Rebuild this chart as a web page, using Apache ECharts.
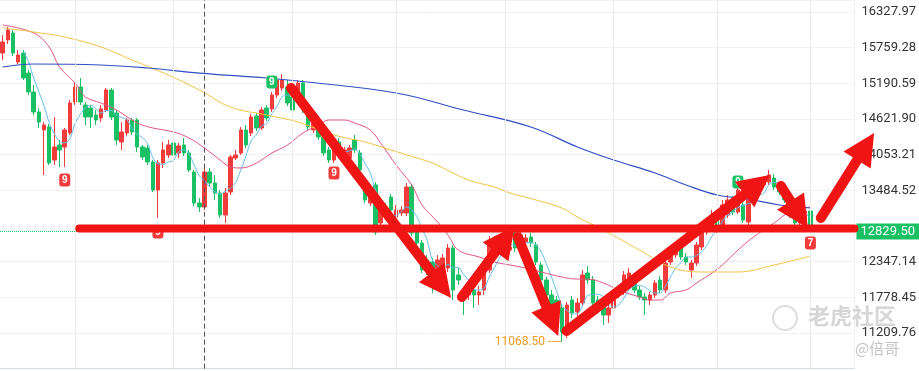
<!DOCTYPE html>
<html><head><meta charset="utf-8">
<script src="https://cdn.jsdelivr.net/npm/echarts@6/dist/echarts.min.js"></script>
<style>html,body{margin:0;padding:0;background:#fff}#c{width:919px;height:371px}</style>
</head><body><div id="c"></div>
<script>
// ---------- data ----------
const categories = Array.from({length: 165}, (_, k) => 'D' + (k + 1));
// [open, close, low, high]
const ohlc = [
[15674,15850,15563,15961],[15882,16041,15818,16089],[15993,15674,15626,16041],[15531,15642,15499,15722],[15674,15276,15244,15722],
[15355,15053,15005,15403],[15053,14734,14686,15164],[14734,14574,14479,14798],[14447,14526,13729,14574],[14495,13921,13889,14542],
[13968,14176,13889,14654],[14208,14128,13857,14287],[14176,14447,13857,14479],[14399,14877,14367,14925],[14893,15132,14845,15196],
[15132,14893,14845,15276],[14845,14654,14526,14893],[14798,14654,14479,14845],[14686,14606,14526,14766],[14638,14782,14574,14845],
[14766,15084,14734,15116],[15084,14654,14606,15116],[14718,14287,14208,14766],[14255,14415,14128,14574],[14399,14606,14351,14638],
[14606,14415,14367,14638],[14606,14176,14096,14638],[14176,14016,13968,14208],[14160,13937,13889,14208],[13937,13490,13458,13968],
[13490,13921,13044,13968],[13921,14128,13841,14255],[14048,14208,14000,14287],[14239,14048,14000,14319],[14080,14192,14000,14239],
[14208,14080,14032,14319],[14080,13809,13777,14128],[13777,13283,13235,13809],[13283,13219,13139,13362],[13219,13777,13171,13841],
[13777,13601,13554,13841],[13601,13442,13331,13729],[13442,13091,13044,13490],[13091,13442,12964,13522],[13458,14016,13410,14048],
[14000,14048,13968,14128],[14080,14447,14048,14495],[14447,14208,14160,14526],[14399,14654,14351,14702],[14670,14479,14431,14718],
[14479,14766,14447,14813],[14798,14638,14590,14845],[14782,15005,14734,15053],[15005,15244,14957,15308],[15116,15244,15068,15340],
[15132,14877,14829,15244],[14973,14766,14718,15053],[14925,15196,14877,15244],[15196,14766,14718,15244],[14766,14495,14447,14813],
[14447,14558,14399,14606],[14606,14335,14287,14654],[14335,14080,14032,14383],[14128,13968,13921,14176],[13968,14239,13921,14287],
[14255,14080,14032,14319],[13937,14128,13889,14176],[14000,14160,13937,14208],[14287,14128,14080,14367],[14080,13809,13761,14128],
[13601,13331,13283,13681],[13283,13378,13235,13426],[13570,12820,12773,13617],[12964,13171,12916,13219],[13219,13059,13012,13283],
[13378,13171,13123,13426],[13059,13171,13012,13251],[13123,13171,13075,13235],[13123,13538,13075,13601],[13538,12805,12757,13585],
[12852,12645,12597,12900],[12645,12215,12167,12693],[12374,12215,12135,12454],[12342,11975,11848,12406],[12215,12374,12135,12454],
[12246,12406,12183,12470],[12246,12565,12183,12629],[12565,11896,11736,12613],[12135,12055,11975,12246],[11864,11816,11497,11928],
[11816,11928,11736,12023],[11896,11816,11609,11975],[11816,11864,11657,11959],[11896,12215,11816,12278],[12215,12693,12167,12757],
[12581,12693,12533,12757],[12533,12581,12454,12661],[12693,12565,12470,12725],[12533,12581,12486,12629],[12805,12565,12501,12884],
[12693,12773,12629,12836],[12661,12725,12597,12789],[12741,12645,12581,12805],[12613,12342,12294,12661],[12294,12055,12007,12342],
[12055,11816,11768,12103],[11816,11657,11577,11896],[11736,11497,11418,11800],[11609,11226,11068.5,11673],[11226,11657,11130,11704],
[11736,11529,11449,11800],[11545,11689,11481,11768],[11689,12135,11641,12215],[12167,12055,11991,12278],[12055,11689,11641,12119],
[11736,11577,11513,11800],[11689,11497,11338,11752],[11497,11609,11370,11704],[11609,11736,11561,11800],[11816,11864,11768,11928],
[11864,12135,11816,12199],[12055,12167,12007,12246],[12023,11896,11848,12087],[11896,11784,11736,11959],[11784,11736,11497,11848],
[11736,11816,11657,11864],[11816,12007,11768,12055],[12055,11896,11848,12119],[11896,12326,11848,12406],[12342,12486,12294,12533],
[12454,12533,12406,12597],[12565,12422,12374,12613],[12422,12342,12294,12486],[12215,12326,12087,12374],[12326,12613,12278,12661],
[12581,12820,12533,12884],[12820,12932,12773,13012],[12932,13091,12884,13171],[13012,12852,12805,13075],[12932,13251,12884,13331],
[13091,13331,13044,13410],[13331,13139,13091,13394],[13139,13490,13107,13522],[13251,13012,12964,13299],[12980,13378,12932,13426],
[13378,13522,13331,13570],[13490,13617,13442,13681],[13570,13649,13522,13713],[13617,13729,13570,13809],[13681,13538,13490,13745],
[13538,13458,13410,13585],[13490,13331,13283,13538],[13331,13091,13044,13378],[13139,12964,12916,13187],[12964,13107,12916,13155],
[12980,13155,12932,13203],[13155,12829.5,12789,13203]
];
// moving averages: [candle index, value]
const ma20Points = [[0,16121],[6,15993],[9,15770],[11,15451],[14,15196],[16,14973],[19,14877],[22,14765],[25,14606],[27,14526],[29,14479],[33,14415],[36,14319],[39,14160],[42,13968],[44,13857],[46,13841],[49,13920],[52,14080],[55,14207],[58,14399],[61,14526],[63,14606],[66,14606],[68,14558],[71,14447],[73,14239],[76,13888],[79,13570],[81,13251],[84,12980],[86,12773],[88,12533],[92,12422],[95,12342],[98,12294],[101,12246],[104,12183],[108,12103],[111,12070],[113,12070],[116,12007],[119,11896],[123,11784],[125,11736],[127,11736],[129,11848],[132,11896],[134,12007],[137,12167],[139,12294],[142,12533],[145,12740],[149,12964],[152,13139],[156,13219]];
const ma60Points = [[0,16073],[6,16009],[12,15929],[19,15770],[25,15563],[32,15323],[38,15084],[44,14813],[51,14686],[57,14574],[64,14367],[70,14255],[75,14128],[80,14000],[83,13920],[90,13649],[95,13538],[98,13442],[103,13331],[108,13203],[111,13059],[116,12852],[123,12533],[129,12262],[135,12183],[142,12183],[149,12294],[156,12438]];
const ma120Points = [[0,15451],[6,15499],[19,15483],[28,15435],[38,15355],[51,15276],[57,15228],[76,15037],[89,14765],[102,14495],[111,14176],[118,13968],[126,13761],[132,13570],[138,13410],[144,13347],[150,13251],[156,13203]];
const yTickLabels = [11209.76, 11778.45, 12347.14, 13484.52, 14053.21, 14621.90, 15190.59, 15759.28, 16327.97];
const yMin = 10641.07, yMax = 16519.29, yStep = 568.69;
const lastPrice = 12829.50;
const lowPoint = [108, 11068.50];
const monthStartIdx = [14, 33, 56, 76, 97, 118, 138, 156];
const crosshairIdx = 39;
const tdBuy = [[12, 13649, '9'], [30, 12820, '9'], [64, 13761, '9'], [156, 12645, '7']];
const tdSell = [[52, 15212, '9'], [142, 13617, '9']];
// hand-drawn annotation (data coordinates: [candle index, price])
const supportLevel = 12876, supportStartIdx = 14.8;
const annotationArrows = [
  [[55.7, 15116], [86.6, 11768]],
  [[88.7, 11784], [98.9, 12916]],
  [[99.5, 12741], [107.3, 11162]],
  [[108.9, 11242], [148.2, 13729]],
  [[150.3, 13554], [155.5, 12884]],
  [[158.0, 13044], [168.3, 14399]]
];

// ---------- chart ----------
const RED = '#f23b3b', GREEN = '#19c064';
const closes = ohlc.map(d => d[1]);
const ma5 = closes.map((c, k) => k < 4 ? null : +(closes.slice(k - 4, k + 1).reduce((a, b) => a + b, 0) / 5).toFixed(2));
const toCat = pts => pts.map(p => [categories[p[0]], p[1]]);

const chart = echarts.init(document.getElementById('c'));
const option = {
  animation: false,
  grid: {left: 0, right: 59, top: 0, bottom: 2.3},
  xAxis: {
    type: 'category', data: categories, boundaryGap: true,
    axisLine: {show: true, lineStyle: {color: '#d5dbe4'}},
    axisTick: {show: false}, axisLabel: {show: false}, splitLine: {show: false}
  },
  yAxis: {
    type: 'value', position: 'right', min: yMin, max: yMax, interval: yStep, scale: true,
    axisLine: {show: true, lineStyle: {color: '#f0f0f0'}},
    axisTick: {show: false},
    splitLine: {show: true, lineStyle: {color: '#f1f1f1'}},
    axisLabel: {
      showMinLabel: false, showMaxLabel: false, margin: 7,
      color: '#333', fontSize: 13, fontFamily: 'Roboto',
      formatter: v => yTickLabels.some(t => Math.abs(t - v) < 0.5) ? v.toFixed(2) : ''
    }
  },
  series: [
    {
      type: 'candlestick', data: ohlc, barWidth: 4, z: 2,
      itemStyle: {color: RED, color0: GREEN, borderColor: RED, borderColor0: GREEN, borderWidth: 1},
      markLine: {
        silent: true, symbol: 'none', animation: false,
        lineStyle: {color: GREEN, type: 'dotted', width: 1},
        label: {
          show: true, position: 'end', distance: 2, formatter: lastPrice.toFixed(2),
          color: '#fff', backgroundColor: GREEN, padding: [2, 5, 1, 4], fontSize: 13, fontFamily: 'Roboto'
        },
        data: [{yAxis: lastPrice}]
      },
      markPoint: {
        silent: true, animation: false,
        data: [
          ...tdBuy.map(t => ({coord: [categories[t[0]], t[1]], symbol: 'roundRect', symbolSize: [11, 13],
            itemStyle: {color: RED}, label: {show: true, formatter: t[2], color: '#fff', fontSize: 10, fontWeight: 'bold'}})),
          ...tdSell.map(t => ({coord: [categories[t[0]], t[1]], symbol: 'roundRect', symbolSize: [11, 13],
            itemStyle: {color: GREEN}, label: {show: true, formatter: t[2], color: '#fff', fontSize: 10, fontWeight: 'bold'}})),
          {coord: [categories[lowPoint[0]], lowPoint[1]], symbol: 'circle', symbolSize: 1,
            itemStyle: {color: 'rgba(0,0,0,0)'},
            label: {show: true, position: 'left', distance: 0, formatter: lowPoint[1].toFixed(2) + ' ----',
              color: '#f09a22', fontSize: 12, fontFamily: 'Roboto'}}
        ]
      }
    },
    {
      type: 'line', data: ma5, symbol: 'none', smooth: 0.3, z: 3,
      lineStyle: {color: '#62bde8', width: 1},
      markLine: {
        silent: true, symbol: 'none', animation: false, label: {show: false},
        data: [
          ...monthStartIdx.map(k => ({xAxis: categories[k], lineStyle: {color: '#ebebeb', type: 'solid', width: 1}})),
          {xAxis: categories[crosshairIdx], lineStyle: {color: '#555', type: [5, 3], width: 1}}
        ]
      }
    },
    {type: 'line', data: toCat(ma20Points), symbol: 'none', smooth: 0.4, z: 3, lineStyle: {color: '#e2557f', width: 1}},
    {type: 'line', data: toCat(ma60Points), symbol: 'none', smooth: 0.4, z: 3, lineStyle: {color: '#f3c243', width: 1}},
    {type: 'line', data: toCat(ma120Points), symbol: 'none', smooth: 0.4, z: 3, lineStyle: {color: '#2f4fc4', width: 1.2}}
  ]
};
chart.setOption(option);

// ---------- annotations drawn from data coordinates ----------
const xa = chart.convertToPixel({gridIndex: 0}, [categories[0], yMin])[0];
const xb = chart.convertToPixel({gridIndex: 0}, [categories[categories.length - 1], yMin])[0];
const step = (xb - xa) / (categories.length - 1);
const toPx = p => [xa + p[0] * step, chart.convertToPixel({gridIndex: 0}, [categories[0], p[1]])[1]];
const plotRight = xb + step / 2;
const ANN = '#f01414';
const graphics = [];
const sp = toPx([supportStartIdx, supportLevel]);
graphics.push({type: 'line', z: 100, shape: {x1: sp[0], y1: sp[1], x2: plotRight, y2: sp[1]},
  style: {stroke: ANN, lineWidth: 8, lineCap: 'round'}});
annotationArrows.forEach(a => {
  const p1 = toPx(a[0]), p2 = toPx(a[1]);
  const dx = p2[0] - p1[0], dy = p2[1] - p1[1], L = Math.hypot(dx, dy);
  const ux = dx / L, uy = dy / L, nx = -uy, ny = ux;
  const headLen = 32, headHalf = 16;
  const bx = p2[0] - ux * headLen, by = p2[1] - uy * headLen;
  graphics.push({type: 'line', z: 101, shape: {x1: p1[0], y1: p1[1], x2: bx + ux * 6, y2: by + uy * 6},
    style: {stroke: ANN, lineWidth: 10, lineCap: 'round'}});
  graphics.push({type: 'polygon', z: 101, shape: {points: [[p2[0], p2[1]], [bx + nx * headHalf, by + ny * headHalf], [bx - nx * headHalf, by - ny * headHalf]]},
    style: {fill: ANN}});
});
graphics.push({type: 'circle', z: 50, shape: {cx: 785, cy: 318, r: 12}, style: {fill: 'none', stroke: '#dddddd', lineWidth: 2}});
graphics.push({type: 'text', z: 50, left: 808, top: 305, style: {text: '老虎社区', fill: '#d6d6d6', font: 'bold 22px "Noto Sans CJK SC"'}});
graphics.push({type: 'text', z: 50, left: 855, top: 341, style: {text: '@倍哥', fill: '#c4c4c4', font: '15px "Noto Sans CJK SC"'}});
chart.setOption({graphic: graphics});
</script>
</body></html>
